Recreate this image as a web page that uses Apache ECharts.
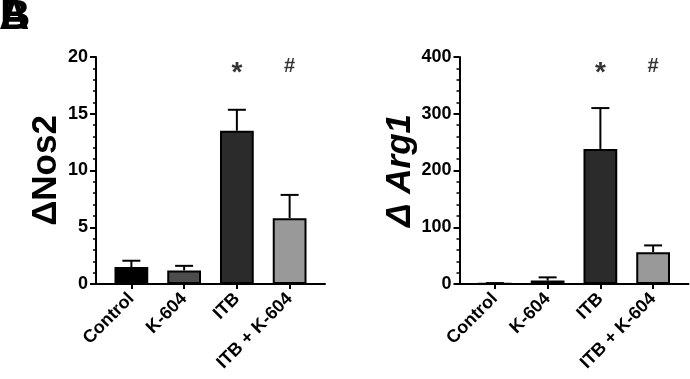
<!DOCTYPE html>
<html>
<head>
<meta charset="utf-8">
<script src="https://cdn.jsdelivr.net/npm/echarts@6/dist/echarts.min.js"></script>
<style>
html, body { margin: 0; padding: 0; background: #fff; }
#main { width: 690px; height: 379px; }
</style>
</head>
<body>
<div id="main"></div>
<script>
var groups = ["Control", "K-604", "ITB", "ITB + K-604"];
// ΔNos2: mean and top of error bar
var nosMean = [1.5, 1.2, 13.5, 5.8];
var nosUpper = [2.05, 1.6, 15.35, 7.85];
// ΔArg1
var argMean = [1, 6, 238, 56];
var argUpper = [1.6, 11.7, 310, 68];
// significance marks
var signs = ["", "", "*", "#"];
var nosMax = 20, nosStep = 5;
var argMax = 400, argStep = 100;

var barColors = ["#000000", "#4d4d4d", "#2b2b2b", "#999999"];
var font = "Liberation Sans";

var chart = echarts.init(document.getElementById("main"));

function barData(vals) {
	return vals.map(function (v, i) {
		return { value: v, itemStyle: { color: barColors[i] } };
	});
}

function errData(mean, upper) {
	return mean.map(function (v, i) {
		return [i, v, upper[i]];
	});
}

function signData(max) {
	var out = [];
	signs.forEach(function (s, i) {
		if (!s) return;
		var star = s === "*";
		out.push({
			value: [i, star ? max * 0.93 : max * 0.96],
			name: s,
			label: { fontSize: star ? 28 : 20 }
		});
	});
	return out;
}

// error bar: vertical line + cap
function renderErr(params, api) {
	var a = api.coord([api.value(0), api.value(1)]);
	var b = api.coord([api.value(0), api.value(2)]);
	var st = { stroke: "#000", lineWidth: 2 };
	return {
		type: "group",
		children: [
			{ type: "line", shape: { x1: a[0], y1: a[1], x2: b[0], y2: b[1] }, style: st },
			{ type: "line", shape: { x1: b[0] - 9, y1: b[1], x2: b[0] + 9, y2: b[1] }, style: st }
		]
	};
}

function catAxis(gi) {
	return {
		type: "category",
		gridIndex: gi,
		data: groups,
		axisLine: { show: false },
		axisTick: { show: true, alignWithLabel: true, length: 5, lineStyle: { color: "#000", width: 2 } },
		axisLabel: {
			interval: 0,
			rotate: 45,
			margin: 12,
			color: "#000",
			fontSize: 18,
			fontWeight: "bold",
			fontFamily: font
		}
	};
}

function lineAxis(gi) {
	return {
		type: "value",
		gridIndex: gi,
		min: 0,
		max: 1,
		axisLine: { show: true, lineStyle: { color: "#000", width: 2 } },
		axisTick: { show: false },
		axisLabel: { show: false },
		splitLine: { show: false }
	};
}

function hiddenY(gi, max) {
	return { type: "value", gridIndex: gi, min: 0, max: max, show: false, splitLine: { show: false } };
}

function shownY(gi, max, step, name, gap, italicName) {
	return {
		type: "value",
		gridIndex: gi,
		min: 0,
		max: max,
		interval: step,
		name: name,
		nameLocation: "middle",
		nameGap: gap,
		nameTextStyle: {
			color: "#000",
			fontSize: 35,
			fontWeight: "bold",
			fontFamily: font,
			fontStyle: italicName ? "italic" : "normal"
		},
		axisLine: { show: true, lineStyle: { color: "#000", width: 2 } },
		axisTick: { show: true, length: 6, lineStyle: { color: "#000", width: 2 } },
		minorTick: { show: true, splitNumber: 5, length: 3, lineStyle: { color: "#000", width: 1.5 } },
		axisLabel: { color: "#000", fontSize: 18, fontWeight: "bold", fontFamily: font, margin: 8 },
		splitLine: { show: false }
	};
}

function panelSeries(xi, yi, mean, upper, max) {
	return [
		{
			type: "bar",
			xAxisIndex: xi,
			yAxisIndex: yi,
			data: barData(mean),
			barWidth: "64%",
			itemStyle: { borderColor: "#000", borderWidth: 2 },
			z: 2
		},
		{
			type: "custom",
			xAxisIndex: xi,
			yAxisIndex: yi,
			data: errData(mean, upper),
			encode: { x: 0, y: [1, 2] },
			renderItem: renderErr,
			z: 1
		},
		{
			type: "scatter",
			xAxisIndex: xi,
			yAxisIndex: yi,
			symbolSize: 0,
			data: signData(max),
			label: {
				show: true,
				position: "inside",
				formatter: "{b}",
				color: "#000",
				fontWeight: "bold",
				fontFamily: font
			}
		}
	];
}

var letterStyle = { fontSize: 42, fontWeight: "bold", fontFamily: font, fill: "#000" };

var option = {
	animation: false,
	grid: [
		{ left: 105, top: 57, width: 211, height: 227 },
		{ left: 96, top: 57, width: 229, height: 227 },
		{ left: 468.5, top: 57, width: 211, height: 227 },
		{ left: 459.5, top: 57, width: 229, height: 227 }
	],
	xAxis: [catAxis(0), lineAxis(1), catAxis(2), lineAxis(3)],
	yAxis: [
		hiddenY(0, nosMax),
		shownY(1, nosMax, nosStep, "ΔNos2", 30, false),
		hiddenY(2, argMax),
		shownY(3, argMax, argStep, "Δ Arg1", 38, true)
	],
	graphic: [
		{ type: "text", left: -1, top: -4, style: Object.assign({ text: "A" }, letterStyle) },
		{ type: "text", left: 0, top: -4, style: Object.assign({ text: "B" }, letterStyle) }
	],
	series: []
		.concat(panelSeries(0, 0, nosMean, nosUpper, nosMax))
		.concat(panelSeries(2, 2, argMean, argUpper, argMax))
};

chart.setOption(option);
window.addEventListener("resize", chart.resize);
</script>
</body>
</html>
